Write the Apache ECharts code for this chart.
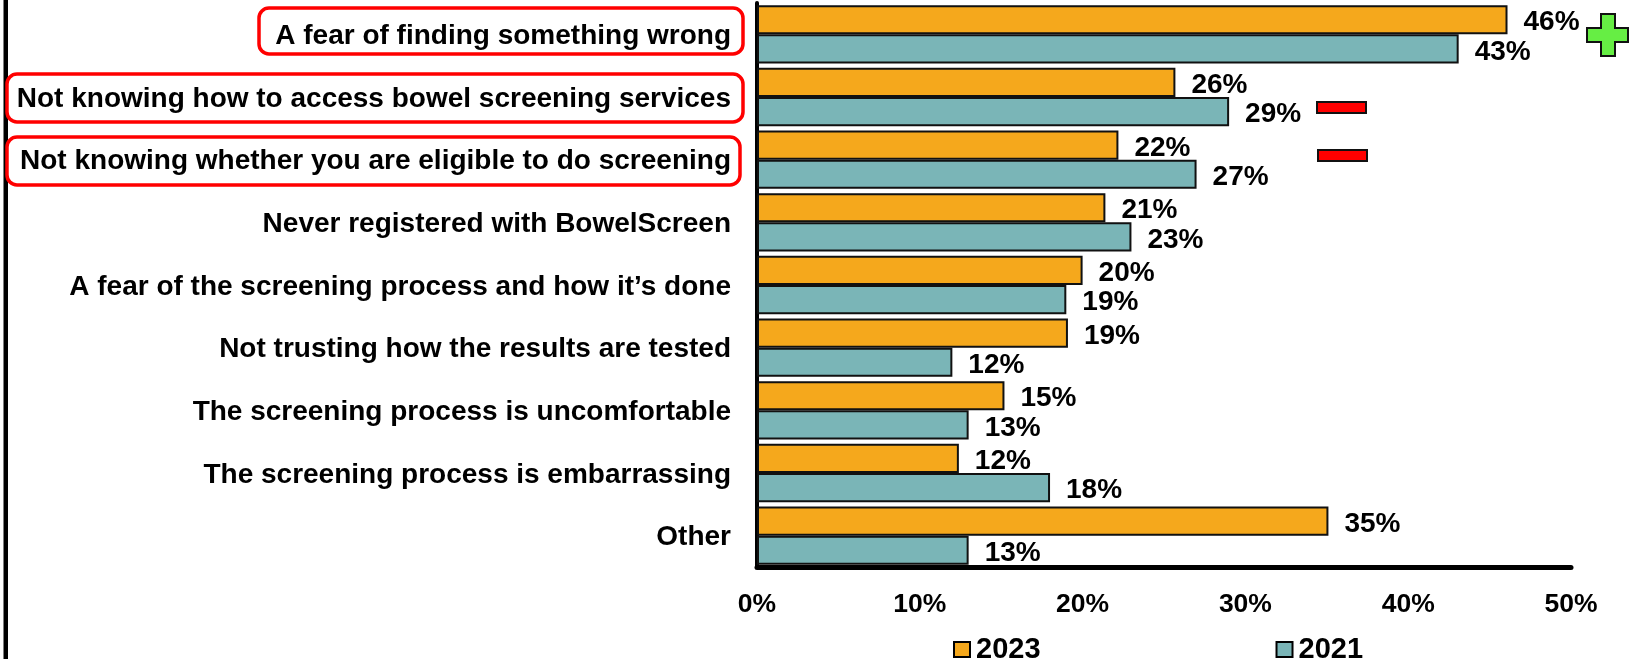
<!DOCTYPE html>
<html><head><meta charset="utf-8">
<style>html,body{margin:0;padding:0;background:#fff}#c{width:1631px;height:659px}</style>
<script src="https://cdn.jsdelivr.net/npm/echarts@6/dist/echarts.min.js"></script>
</head><body><div id="c"></div>
<script>
const categories = ["A fear of finding something wrong","Not knowing how to access bowel screening services","Not knowing whether you are eligible to do screening","Never registered with BowelScreen","A fear of the screening process and how it\u2019s done","Not trusting how the results are tested","The screening process is uncomfortable","The screening process is embarrassing","Other"];
const values2023 = [46.1,25.7,22.2,21.4,20,19.1,15.2,12.4,35.1];
const values2021 = [43.1,29,27,23,19,12,13,18,13];
const FONT = '"Liberation Sans", Arial, sans-serif';
const chart = echarts.init(document.getElementById('c'), null, {renderer:'canvas'});
const labelCfg = {show:true, position:'right', distance:16, offset:[0,3], color:'#000', fontFamily:FONT, fontWeight:'bold', fontSize:28,
  formatter:p=>Math.round(p.value)+'%'};
const box = (x,y,w,h)=>({type:'rect', shape:{x,y,width:w,height:h,r:10}, style:{fill:'none',stroke:'#f00',lineWidth:3.5}, z:10});
chart.setOption({
  animation:false,
  backgroundColor:'#fff',
  textStyle:{fontFamily:FONT},
  grid:{left:757,right:60,top:3,height:564,containLabel:false},
  xAxis:{type:'value',min:0,max:50,interval:10,splitLine:{show:false},
    axisLine:{show:true,lineStyle:{color:'#000',width:5}},axisTick:{show:false},
    axisLabel:{color:'#000',fontFamily:FONT,fontWeight:'bold',fontSize:26.5,margin:24,formatter:'{value}%'}},
  yAxis:{type:'category',inverse:true,data:categories,
    axisLine:{show:true,lineStyle:{color:'#000',width:4}},axisTick:{show:false},
    axisLabel:{color:'#000',fontFamily:FONT,fontWeight:'bold',fontSize:28,margin:26,verticalAlign:'top',lineHeight:4}},
  legend:{left:948,top:630,itemWidth:16,itemHeight:15,itemGap:235,selectedMode:false,icon:'rect',
    textStyle:{color:'#000',fontFamily:FONT,fontWeight:'bold',fontSize:29,padding:[0,0,0,1]},
    itemStyle:{borderColor:'#000',borderWidth:2},
    data:['2023','2021']},
  series:[
    {name:'2023',type:'bar',data:values2023,barGap:0,barCategoryGap:'7%',
     itemStyle:{color:'#F5A81C',borderColor:'#111',borderWidth:2},label:labelCfg},
    {name:'2021',type:'bar',data:values2021,barGap:0,barCategoryGap:'7%',
     itemStyle:{color:'#7AB5B7',borderColor:'#111',borderWidth:2},label:labelCfg}
  ],
  graphic:[
    {type:'rect',shape:{x:3.5,y:0,width:4.5,height:659},style:{fill:'#000'}},
    box(259,8,484,46), box(7,74,736,48), box(7,137,733,48),
    {type:'polygon',z:10,shape:{points:[[1601,14],[1615,14],[1615,28],[1628,28],[1628,42],[1615,42],[1615,56],[1601,56],[1601,42],[1587,42],[1587,28],[1601,28]]},
      style:{fill:'#66EE44',stroke:'#111',lineWidth:2}},
    {type:'rect',z:10,shape:{x:1317,y:102,width:49,height:11},style:{fill:'#f00',stroke:'#111',lineWidth:2}},
    {type:'rect',z:10,shape:{x:1318,y:150,width:49,height:11},style:{fill:'#f00',stroke:'#111',lineWidth:2}}
  ]
});
</script></body></html>
